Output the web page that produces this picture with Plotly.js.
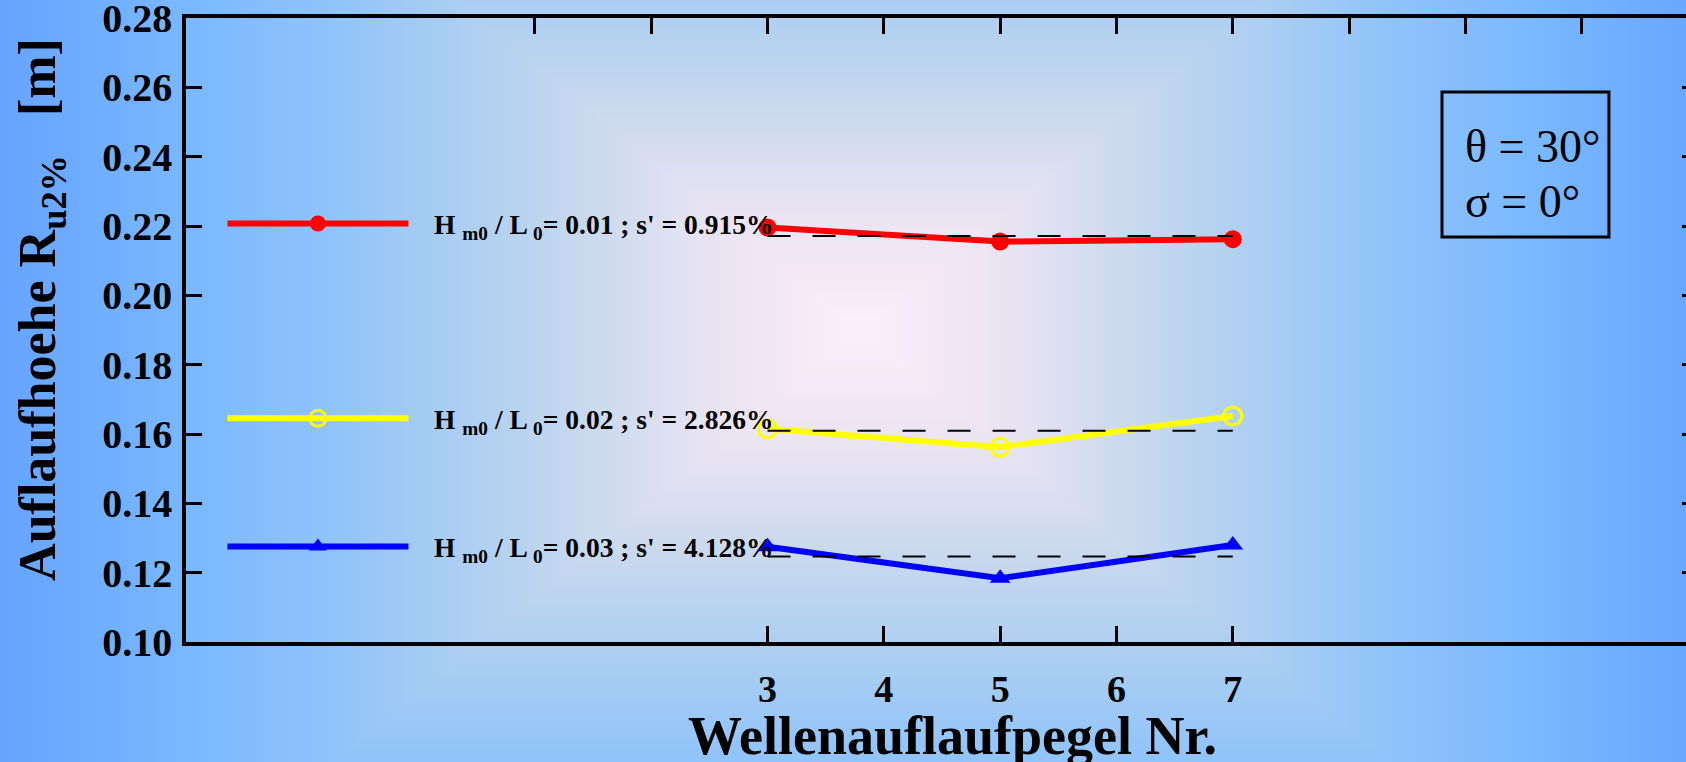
<!DOCTYPE html>
<html>
<head>
<meta charset="utf-8">
<script src="https://cdn.plot.ly/plotly-3.0.1.min.js"></script>
<style>
  html, body { margin: 0; padding: 0; overflow: hidden; width: 1686px; height: 762px; }
  #chart { width: 1712px; height: 762px; background-repeat: no-repeat; }
</style>
</head>
<body>
<div id="chart"></div>
<script>
// Wave run-up gauges along the slope
const gauges = [3, 5, 7];

// Run-up height R_u2% [m] per gauge, one array per wave steepness
const runupSteep001 = [0.2196, 0.2155, 0.2162];
const runupSteep002 = [0.1615, 0.1562, 0.1652];
const runupSteep003 = [0.1275, 0.1184, 0.1280];

const seriesNames = [
  "\u00a0\u00a0\u00a0H <sub>m0</sub> / L <sub>0</sub>= 0.01 ; s' = 0.915%",
  "\u00a0\u00a0\u00a0H <sub>m0</sub> / L <sub>0</sub>= 0.02 ; s' = 2.826%",
  "\u00a0\u00a0\u00a0H <sub>m0</sub> / L <sub>0</sub>= 0.03 ; s' = 4.128%"
];

const bottomTickVals = [3, 4, 5, 6, 7];
const bottomTickText = ["3", "4", "5", "6", "7"];
const topTickVals = [1, 2, 3, 4, 5, 6, 7, 8, 9, 10];
const yTickVals = [0.10, 0.12, 0.14, 0.16, 0.18, 0.20, 0.22, 0.24, 0.26, 0.28];

const xTitle = "Wellenauflaufpegel Nr.";
const yTitle = "Auflaufhoehe R<sub>u2%</sub>\u00a0\u00a0\u00a0[m]";
const angleLine1 = "\u03b8 = 30\u00b0";
const angleLine2 = "\u03c3 = 0\u00b0";

// ---- background: rectangular gradient, pale pink centre to blue edges ----
function paintBackground(el) {
  const W = 1712, H = 762, cx = 860, cy = 330, A = 860, B = 700;
  const stops = [
    [0.00, [253, 238, 251]],
    [0.10, [243, 231, 245]],
    [0.20, [228, 226, 242]],
    [0.30, [205, 218, 238]],
    [0.40, [184, 211, 239]],
    [0.50, [165, 204, 243]],
    [0.62, [143, 195, 250]],
    [0.78, [122, 184, 255]],
    [1.00, [102, 163, 255]]
  ];
  const c = document.createElement('canvas');
  c.width = W; c.height = H;
  const ctx = c.getContext('2d');
  const img = ctx.createImageData(W, H);
  const d = img.data;
  for (let y = 0; y < H; y++) {
    for (let x = 0; x < W; x++) {
      let t = Math.max(Math.abs(x - cx) / A, Math.abs(y - cy) / B);
      if (t > 1) t = 1;
      let k = 1;
      while (k < stops.length - 1 && stops[k][0] < t) k++;
      const s0 = stops[k - 1], s1 = stops[k];
      const f = (t - s0[0]) / (s1[0] - s0[0]);
      const i = (y * W + x) * 4;
      d[i] = s0[1][0] + (s1[1][0] - s0[1][0]) * f;
      d[i + 1] = s0[1][1] + (s1[1][1] - s0[1][1]) * f;
      d[i + 2] = s0[1][2] + (s1[1][2] - s0[1][2]) * f;
      d[i + 3] = 255;
    }
  }
  ctx.putImageData(img, 0, 0);
  el.style.backgroundImage = 'url(' + c.toDataURL() + ')';
}

const chartEl = document.getElementById('chart');
paintBackground(chartEl);

const mean = arr => arr.reduce((a, b) => a + b, 0) / arr.length;

const seriesValues = [runupSteep001, runupSteep002, runupSteep003];
const seriesColors = ['#ff0000', '#ffff00', '#0000ff'];
const seriesMarkers = [
  { symbol: 'circle', size: 18, color: '#ff0000' },
  { symbol: 'circle-open', size: 18, color: '#ffff00', line: { width: 3, color: '#ffff00' } },
  { symbol: 'triangle-up', size: 18, color: '#0000ff' }
];
const legendIds = ['legend', 'legend2', 'legend3'];

const traces = seriesValues.map((vals, i) => ({
  type: 'scatter',
  mode: 'lines+markers',
  x: gauges,
  y: vals,
  name: seriesNames[i],
  legend: legendIds[i],
  line: { color: seriesColors[i], width: 6 },
  marker: seriesMarkers[i],
  hoverinfo: 'x+y'
}));

// dashed mean level of each series, spanning the gauges
seriesValues.forEach(vals => {
  const m = mean(vals);
  traces.push({
    type: 'scatter',
    mode: 'lines',
    x: [gauges[0], gauges[gauges.length - 1]],
    y: [m, m],
    xaxis: 'x2',
    showlegend: false,
    hoverinfo: 'skip',
    line: { color: '#000000', width: 2, dash: '23px,22px' }
  });
});

const serif = 'Liberation Serif, Times New Roman, serif';
const legendBase = {
  xanchor: 'left', yanchor: 'middle',
  bgcolor: 'rgba(0,0,0,0)', borderwidth: 0,
  itemwidth: 181,
  font: { family: serif, size: 27.5, color: '#000000', weight: 'bold' }
};

const xRange = [-2, 11];
const yRange = [0.10, 0.28];

const layout = {
  width: 1712,
  height: 762,
  margin: { l: 186, r: 14, t: 18, b: 120 },
  paper_bgcolor: 'rgba(0,0,0,0)',
  plot_bgcolor: 'rgba(0,0,0,0)',
  showlegend: true,
  xaxis: {
    range: xRange,
    showgrid: false, zeroline: false,
    showline: true, linecolor: '#000000', linewidth: 3.5,
    ticks: 'inside', ticklen: 16, tickwidth: 3, tickcolor: '#000000',
    tickvals: bottomTickVals, ticktext: bottomTickText,
    ticklabelstandoff: 11,
    tickfont: { family: serif, size: 38, color: '#000000', weight: 'bold' }
  },
  xaxis2: {
    range: xRange,
    overlaying: 'x', side: 'top',
    showgrid: false, zeroline: false,
    showline: true, linecolor: '#000000', linewidth: 3.5,
    ticks: 'inside', ticklen: 16, tickwidth: 3, tickcolor: '#000000',
    tickvals: topTickVals, showticklabels: false
  },
  yaxis: {
    range: yRange,
    showgrid: false, zeroline: false,
    showline: true, linecolor: '#000000', linewidth: 3.5,
    mirror: 'ticks',
    ticks: 'inside', ticklen: 16, tickwidth: 3, tickcolor: '#000000',
    tickvals: yTickVals, tickformat: '.2f',
    ticklabelstandoff: 2,
    ticklabeloverflow: 'allow',
    tickfont: { family: serif, size: 40, color: '#000000', weight: 'bold' }
  },
  legend: Object.assign({}, legendBase, { x: 0.0241, y: 0.6705 }),
  legend2: Object.assign({}, legendBase, { x: 0.0241, y: 0.3582 }),
  legend3: Object.assign({}, legendBase, { x: 0.0241, y: 0.1530 }),
  shapes: [
    {
      type: 'rect', xref: 'paper', yref: 'paper',
      x0: 0.8307, x1: 0.9411, y0: 0.649, y1: 0.8814,
      line: { color: '#000000', width: 3 }, fillcolor: 'rgba(0,0,0,0)'
    }
  ],
  annotations: [
    {
      text: xTitle, showarrow: false,
      xref: 'paper', yref: 'paper', x: 0.507, y: -0.150,
      xanchor: 'center', yanchor: 'middle',
      font: { family: serif, size: 54, color: '#000000', weight: 'bold' }
    },
    {
      text: yTitle, showarrow: false, textangle: -90,
      xref: 'paper', yref: 'paper', x: -0.0953, y: 0.5337,
      xanchor: 'center', yanchor: 'middle',
      font: { family: serif, size: 52, color: '#000000', weight: 'bold' }
    },
    {
      text: angleLine1, showarrow: false,
      xref: 'paper', yref: 'paper', x: 0.8452, y: 0.794,
      xanchor: 'left', yanchor: 'middle', borderpad: 0,
      font: { family: serif, size: 46, color: '#000000' }
    },
    {
      text: angleLine2, showarrow: false,
      xref: 'paper', yref: 'paper', x: 0.8452, y: 0.7067,
      xanchor: 'left', yanchor: 'middle', borderpad: 0,
      font: { family: serif, size: 46, color: '#000000' }
    }
  ]
};

Plotly.newPlot(chartEl, traces, layout, { displayModeBar: false, responsive: false });
</script>
</body>
</html>
